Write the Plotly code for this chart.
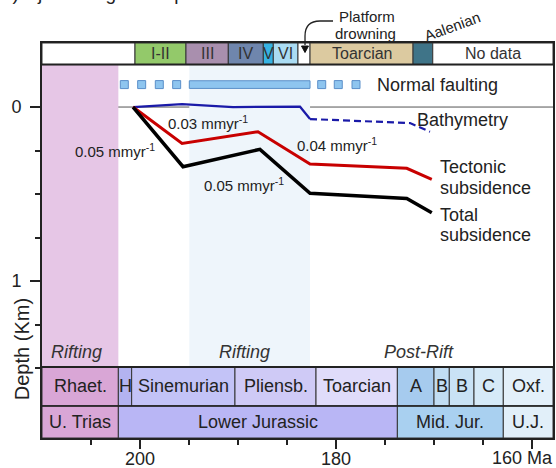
import plotly.graph_objects as go

FONT = "Liberation Sans, Arial, sans-serif"
TXT = "#222222"

# ---------------- data (age in Ma, depth in km) ----------------
bathy_solid_age = [200.71, 195.71, 190.51, 183.67, 182.65]
bathy_solid_depth = [0.0, -0.017, 0.0, -0.002, 0.069]
bathy_dash_age = [182.65, 172.45, 170.41]
bathy_dash_depth = [0.069, 0.092, 0.142]

tect_age = [200.71, 195.71, 187.96, 182.65, 172.78, 170.23]
tect_depth = [0.0, 0.209, 0.142, 0.328, 0.352, 0.416]

total_age = [200.71, 195.61, 187.76, 182.65, 172.78, 170.23]
total_depth = [0.0, 0.343, 0.243, 0.496, 0.525, 0.607]

fault_square_age = [201.6, 199.83, 198.03, 196.26, 181.46, 179.77, 177.96]
fault_bar_age = [194.97, 182.65]
fault_depth = -0.129

header_labels = ["", "I-II", "III", "IV", "V", "VI", "", "Toarcian", "", "No data"]
header_bounds = [210, 200.51, 195.31, 190.99, 187.42, 186.40, 183.88, 182.65, 172.14, 170.13, 157.86]

stage_labels = ["Rhaet.", "H", "Sinemurian", "Pliensb.", "Toarcian", "A", "B", "B", "C", "Oxf."]
stage_bounds = [210, 202.21, 200.85, 190.31, 182.04, 173.74, 170.0, 168.44, 165.92, 162.93, 157.86]

epoch_labels = ["U. Trias", "Lower Jurassic", "Mid. Jur.", "U.J."]
epoch_bounds = [210, 202.21, 173.74, 162.93, 157.86]

phase_labels = ["Rifting", "Rifting", "Post-Rift"]
phase_label_age = [206.53, 189.29, 171.51]
rifting1_age = [210, 202.21]
rifting2_age = [194.97, 182.65]

rate_labels = ["0.05 mmyr<sup>-1</sup>", "0.03 mmyr<sup>-1</sup>",
               "0.05 mmyr<sup>-1</sup>", "0.04 mmyr<sup>-1</sup>"]
rate_age = [202.55, 193.06, 189.39, 179.9]
rate_depth = [0.247, 0.086, 0.448, 0.218]

x_major = [200, 180, 160]
x_major_text = ["200", "180", " "]
x_minor = [205, 195, 190, 185, 175, 170, 165]
y_major = [0, 1]
y_major_text = ["0", "1"]
y_minor = [0.25, 0.5, 0.75, 1.25, 1.5]

# ---------------- styles / layout bands ----------------
header_colors = ["#ffffff", "#93c96a", "#a98fae", "#6f86ad", "#36b3e3", "#aadcf3",
                 "#ffffff", "#dccaa0", "#3f7488", "#ffffff"]
stage_colors = ["#d9a6d6", "#b3b3f0", "#c3c3f7", "#cfcaf6", "#e0dcfa", "#a6cbee",
                "#c1ddf3", "#c9e2f5", "#d6eaf8", "#e3f0fa"]
epoch_colors = ["#d9a6d6", "#b9b6f5", "#a9d0f0", "#e1eff9"]

HDR = (-0.368, -0.244)
MAIN = (-0.244, 1.494)
ROW1 = (1.494, 1.718)
ROW2 = (1.718, 1.902)

fig = go.Figure()
shapes = []
annotations = []


def note(text, x, y, xref="x", yref="y", size=18, xanchor="center", yanchor="middle", **kw):
    annotations.append(dict(x=x, y=y, xref=xref, yref=yref, text=text, showarrow=False,
                            xanchor=xanchor, yanchor=yanchor,
                            font=dict(family=FONT, size=size, color=kw.pop("color", TXT)), **kw))


# background phases
shapes.append(dict(type="rect", xref="x", yref="y", x0=rifting1_age[0], x1=rifting1_age[1],
                   y0=MAIN[0], y1=MAIN[1], fillcolor="#e6c6e6", line_width=0, layer="below"))
shapes.append(dict(type="rect", xref="x", yref="y", x0=rifting2_age[0], x1=rifting2_age[1],
                   y0=MAIN[0], y1=MAIN[1], fillcolor="#eef5fb", line_width=0, layer="below"))
# zero line
shapes.append(dict(type="line", xref="paper", yref="y", x0=0, x1=1, y0=0, y1=0,
                   line=dict(color="#555555", width=1), layer="below"))

# header bar
for i, lab in enumerate(header_labels):
    shapes.append(dict(type="rect", xref="x", yref="y", x0=header_bounds[i], x1=header_bounds[i + 1],
                       y0=HDR[0], y1=HDR[1], fillcolor=header_colors[i],
                       line=dict(color="#333333", width=1), layer="below"))
    if lab:
        note(lab, (header_bounds[i] + header_bounds[i + 1]) / 2, sum(HDR) / 2, size=16, color="#333333")

# stratigraphic table
for i, lab in enumerate(stage_labels):
    shapes.append(dict(type="rect", xref="x", yref="y", x0=stage_bounds[i], x1=stage_bounds[i + 1],
                       y0=ROW1[0], y1=ROW1[1], fillcolor=stage_colors[i],
                       line=dict(color="#333333", width=1), layer="below"))
    note(lab, (stage_bounds[i] + stage_bounds[i + 1]) / 2, sum(ROW1) / 2)
for i, lab in enumerate(epoch_labels):
    shapes.append(dict(type="rect", xref="x", yref="y", x0=epoch_bounds[i], x1=epoch_bounds[i + 1],
                       y0=ROW2[0], y1=ROW2[1], fillcolor=epoch_colors[i],
                       line=dict(color="#333333", width=1), layer="below"))
    note(lab, (epoch_bounds[i] + epoch_bounds[i + 1]) / 2, sum(ROW2) / 2)

# separating lines
for yy, w in [(HDR[1], 2), (ROW1[0], 2), (ROW2[0], 1.5)]:
    shapes.append(dict(type="line", xref="paper", yref="y", x0=0, x1=1, y0=yy, y1=yy,
                       line=dict(color="#222222", width=w)))

# normal faulting bar
shapes.append(dict(type="rect", xref="x", yref="y", x0=fault_bar_age[0], x1=fault_bar_age[1],
                   y0=fault_depth - 0.022, y1=fault_depth + 0.022, fillcolor="#8ec5ef",
                   line=dict(color="#5b8fc9", width=1)))

# platform drowning arrow (paper coords)
shapes.append(dict(type="path", xref="paper", yref="paper",
                   path="M 0.5695 1.0557 L 0.5440 1.0557 Q 0.5147 1.0557 0.5147 1.0177 L 0.5147 0.995",
                   line=dict(color="#222222", width=1.3)))
shapes.append(dict(type="path", xref="paper", yref="paper",
                   path="M 0.5078 0.9924 L 0.5215 0.9924 L 0.5147 0.9759 Z",
                   fillcolor="#111111", line=dict(color="#111111", width=1)))

# traces
fig.add_trace(go.Scatter(x=fault_square_age, y=[fault_depth] * len(fault_square_age), mode="markers",
                         marker=dict(symbol="square", size=8, color="#8ec5ef",
                                     line=dict(color="#5b8fc9", width=1)),
                         hoverinfo="skip"))
fig.add_trace(go.Scatter(x=bathy_solid_age, y=bathy_solid_depth, mode="lines",
                         line=dict(color="#1a1aa8", width=2.2)))
fig.add_trace(go.Scatter(x=bathy_dash_age, y=bathy_dash_depth, mode="lines",
                         line=dict(color="#1a1aa8", width=2.2, dash="7px,4px")))
fig.add_trace(go.Scatter(x=tect_age, y=tect_depth, mode="lines",
                         line=dict(color="#c80000", width=3)))
fig.add_trace(go.Scatter(x=total_age, y=total_depth, mode="lines",
                         line=dict(color="#000000", width=3.5)))

# text labels in panel
for lab, a, d in zip(rate_labels, rate_age, rate_depth):
    note(lab, a, d, size=15)
for lab, a in zip(phase_labels, phase_label_age):
    note("<i>" + lab + "</i>", a, 1.405, color="#333333")

side = [("Normal faulting", 176.02, -0.126), ("Bathymetry", 171.94, 0.075),
        ("Tectonic", 169.59, 0.345), ("subsidence", 169.59, 0.466),
        ("Total", 169.59, 0.620), ("subsidence", 169.59, 0.735)]
for lab, a, d in side:
    note(lab, a, d, xanchor="left")

# header extras
note("Platform", 0.6354, 1.0666, xref="paper", yref="paper", size=15)
note("drowning", 0.6321, 1.0246, xref="paper", yref="paper", size=15)
note("Aalenian", 0.8018, 1.043, xref="paper", yref="paper", size=15, textangle=-20)
# clipped title at top
note("b) Djebel Zaghouan platform section", -0.082, 1.094, xref="paper", yref="paper",
     size=19, xanchor="left", yanchor="bottom")
# axis extras
note("160 Ma", 1.0039, -0.0506, xref="paper", yref="paper", xanchor="right")
note("Depth (Km)", -0.039, 0.225, xref="paper", yref="paper", size=20, textangle=-90)

fig.update_layout(
    width=556, height=468, autosize=False,
    margin=dict(l=42, r=3, t=43, b=30, autoexpand=False),
    paper_bgcolor="white", plot_bgcolor="white",
    showlegend=False,
    shapes=shapes, annotations=annotations,
    xaxis=dict(range=[210, 157.86], showgrid=False, zeroline=False, automargin=False,
               showline=True, mirror=True, linecolor="#222222", linewidth=2,
               tickmode="array", tickvals=x_major, ticktext=x_major_text,
               ticks="outside", ticklen=9, tickwidth=1.5, tickcolor="#222222",
               ticklabelstandoff=-6,
               tickfont=dict(family=FONT, size=18, color=TXT),
               minor=dict(tickmode="array", tickvals=x_minor, ticks="outside",
                          ticklen=5, tickwidth=1.5, tickcolor="#222222", showgrid=False)),
    yaxis=dict(range=[1.902, -0.368], showgrid=False, zeroline=False, automargin=False,
               showline=True, mirror=True, linecolor="#222222", linewidth=2,
               tickmode="array", tickvals=y_major, ticktext=y_major_text,
               ticks="outside", ticklen=10, tickwidth=1.5, tickcolor="#222222",
               ticklabelstandoff=5,
               tickfont=dict(family=FONT, size=18, color=TXT),
               minor=dict(tickmode="array", tickvals=y_minor, ticks="outside",
                          ticklen=5, tickwidth=1.5, tickcolor="#222222", showgrid=False)),
)

fig.write_html("out.html", config={"responsive": False, "displayModeBar": False},
               post_script="document.body.style.margin='0';document.body.style.padding='0';")
